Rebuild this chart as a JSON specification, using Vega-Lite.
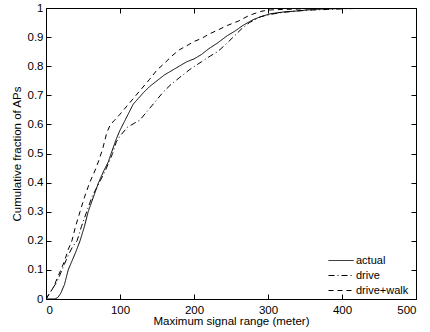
{
  "$schema": "https://vega.github.io/schema/vega-lite/v6.json",
  "width": 370,
  "height": 291,
  "autosize": {"type": "none"},
  "padding": {"left": 46, "top": 8, "right": 14, "bottom": 33},
  "background": "white",
  "config": {
    "font": "Liberation Sans",
    "view": {"stroke": "black", "strokeWidth": 1},
    "axis": {
      "grid": false,
      "domain": false,
      "tickColor": "black",
      "tickSize": -5,
      "labelColor": "black",
      "labelFontSize": 11.5,
      "titleColor": "black",
      "titleFontSize": 11.5,
      "titleFontWeight": "normal"
    }
  },
  "datasets": {
    "curves": [
      {"series": "actual", "range": 0, "frac": 0},
      {"series": "actual", "range": 12, "frac": 0},
      {"series": "actual", "range": 16, "frac": 0.005},
      {"series": "actual", "range": 20, "frac": 0.02},
      {"series": "actual", "range": 25, "frac": 0.05},
      {"series": "actual", "range": 30, "frac": 0.1},
      {"series": "actual", "range": 35, "frac": 0.13},
      {"series": "actual", "range": 40, "frac": 0.16},
      {"series": "actual", "range": 46, "frac": 0.2},
      {"series": "actual", "range": 52, "frac": 0.25},
      {"series": "actual", "range": 57, "frac": 0.3},
      {"series": "actual", "range": 64, "frac": 0.35},
      {"series": "actual", "range": 71, "frac": 0.4},
      {"series": "actual", "range": 78, "frac": 0.44},
      {"series": "actual", "range": 84, "frac": 0.47},
      {"series": "actual", "range": 88, "frac": 0.5},
      {"series": "actual", "range": 95, "frac": 0.55},
      {"series": "actual", "range": 100, "frac": 0.58},
      {"series": "actual", "range": 106, "frac": 0.61},
      {"series": "actual", "range": 112, "frac": 0.64},
      {"series": "actual", "range": 118, "frac": 0.67},
      {"series": "actual", "range": 125, "frac": 0.69},
      {"series": "actual", "range": 132, "frac": 0.71},
      {"series": "actual", "range": 140, "frac": 0.73},
      {"series": "actual", "range": 150, "frac": 0.75},
      {"series": "actual", "range": 160, "frac": 0.77},
      {"series": "actual", "range": 170, "frac": 0.785},
      {"series": "actual", "range": 180, "frac": 0.8},
      {"series": "actual", "range": 190, "frac": 0.815},
      {"series": "actual", "range": 200, "frac": 0.825},
      {"series": "actual", "range": 210, "frac": 0.84},
      {"series": "actual", "range": 220, "frac": 0.86},
      {"series": "actual", "range": 232, "frac": 0.88},
      {"series": "actual", "range": 245, "frac": 0.905},
      {"series": "actual", "range": 255, "frac": 0.92},
      {"series": "actual", "range": 266, "frac": 0.94},
      {"series": "actual", "range": 280, "frac": 0.96},
      {"series": "actual", "range": 290, "frac": 0.97},
      {"series": "actual", "range": 303, "frac": 0.98},
      {"series": "actual", "range": 320, "frac": 0.986},
      {"series": "actual", "range": 340, "frac": 0.99},
      {"series": "actual", "range": 360, "frac": 0.995},
      {"series": "actual", "range": 380, "frac": 0.997},
      {"series": "actual", "range": 400, "frac": 0.998},
      {"series": "actual", "range": 420, "frac": 1},
      {"series": "actual", "range": 500, "frac": 1},

      {"series": "drive", "range": 0, "frac": 0},
      {"series": "drive", "range": 5, "frac": 0.02},
      {"series": "drive", "range": 10, "frac": 0.04},
      {"series": "drive", "range": 15, "frac": 0.06},
      {"series": "drive", "range": 20, "frac": 0.09},
      {"series": "drive", "range": 25, "frac": 0.12},
      {"series": "drive", "range": 30, "frac": 0.15},
      {"series": "drive", "range": 36, "frac": 0.18},
      {"series": "drive", "range": 42, "frac": 0.2},
      {"series": "drive", "range": 48, "frac": 0.25},
      {"series": "drive", "range": 55, "frac": 0.3},
      {"series": "drive", "range": 62, "frac": 0.35},
      {"series": "drive", "range": 70, "frac": 0.39},
      {"series": "drive", "range": 74, "frac": 0.41},
      {"series": "drive", "range": 80, "frac": 0.44},
      {"series": "drive", "range": 85, "frac": 0.47},
      {"series": "drive", "range": 90, "frac": 0.5},
      {"series": "drive", "range": 95, "frac": 0.54},
      {"series": "drive", "range": 100, "frac": 0.56},
      {"series": "drive", "range": 110, "frac": 0.59},
      {"series": "drive", "range": 120, "frac": 0.605},
      {"series": "drive", "range": 127, "frac": 0.615},
      {"series": "drive", "range": 135, "frac": 0.64},
      {"series": "drive", "range": 145, "frac": 0.67},
      {"series": "drive", "range": 158, "frac": 0.71},
      {"series": "drive", "range": 170, "frac": 0.74},
      {"series": "drive", "range": 180, "frac": 0.76},
      {"series": "drive", "range": 195, "frac": 0.79},
      {"series": "drive", "range": 210, "frac": 0.815},
      {"series": "drive", "range": 222, "frac": 0.835},
      {"series": "drive", "range": 232, "frac": 0.85},
      {"series": "drive", "range": 245, "frac": 0.88},
      {"series": "drive", "range": 255, "frac": 0.905},
      {"series": "drive", "range": 265, "frac": 0.93},
      {"series": "drive", "range": 275, "frac": 0.95},
      {"series": "drive", "range": 290, "frac": 0.97},
      {"series": "drive", "range": 303, "frac": 0.978},
      {"series": "drive", "range": 320, "frac": 0.985},
      {"series": "drive", "range": 340, "frac": 0.99},
      {"series": "drive", "range": 360, "frac": 0.993},
      {"series": "drive", "range": 380, "frac": 0.995},
      {"series": "drive", "range": 400, "frac": 0.997},
      {"series": "drive", "range": 440, "frac": 1},
      {"series": "drive", "range": 500, "frac": 1},

      {"series": "drive+walk", "range": 0, "frac": 0},
      {"series": "drive+walk", "range": 5, "frac": 0.02},
      {"series": "drive+walk", "range": 10, "frac": 0.04},
      {"series": "drive+walk", "range": 15, "frac": 0.07},
      {"series": "drive+walk", "range": 20, "frac": 0.1},
      {"series": "drive+walk", "range": 25, "frac": 0.13},
      {"series": "drive+walk", "range": 30, "frac": 0.17},
      {"series": "drive+walk", "range": 35, "frac": 0.2},
      {"series": "drive+walk", "range": 40, "frac": 0.25},
      {"series": "drive+walk", "range": 46, "frac": 0.3},
      {"series": "drive+walk", "range": 52, "frac": 0.35},
      {"series": "drive+walk", "range": 59, "frac": 0.4},
      {"series": "drive+walk", "range": 66, "frac": 0.44},
      {"series": "drive+walk", "range": 72, "frac": 0.48},
      {"series": "drive+walk", "range": 77, "frac": 0.52},
      {"series": "drive+walk", "range": 82, "frac": 0.57},
      {"series": "drive+walk", "range": 87, "frac": 0.6},
      {"series": "drive+walk", "range": 93, "frac": 0.615},
      {"series": "drive+walk", "range": 100, "frac": 0.635},
      {"series": "drive+walk", "range": 110, "frac": 0.665},
      {"series": "drive+walk", "range": 120, "frac": 0.695},
      {"series": "drive+walk", "range": 130, "frac": 0.725},
      {"series": "drive+walk", "range": 140, "frac": 0.755},
      {"series": "drive+walk", "range": 150, "frac": 0.787},
      {"series": "drive+walk", "range": 160, "frac": 0.81},
      {"series": "drive+walk", "range": 170, "frac": 0.835},
      {"series": "drive+walk", "range": 180, "frac": 0.856},
      {"series": "drive+walk", "range": 190, "frac": 0.87},
      {"series": "drive+walk", "range": 200, "frac": 0.885},
      {"series": "drive+walk", "range": 210, "frac": 0.895},
      {"series": "drive+walk", "range": 220, "frac": 0.91},
      {"series": "drive+walk", "range": 232, "frac": 0.924},
      {"series": "drive+walk", "range": 245, "frac": 0.94},
      {"series": "drive+walk", "range": 260, "frac": 0.955},
      {"series": "drive+walk", "range": 275, "frac": 0.975},
      {"series": "drive+walk", "range": 290, "frac": 0.988},
      {"series": "drive+walk", "range": 300, "frac": 0.993},
      {"series": "drive+walk", "range": 320, "frac": 0.995},
      {"series": "drive+walk", "range": 350, "frac": 0.997},
      {"series": "drive+walk", "range": 400, "frac": 0.999},
      {"series": "drive+walk", "range": 450, "frac": 1},
      {"series": "drive+walk", "range": 500, "frac": 1}
    ]
  },
  "data": {"name": "curves"},
  "layer": [
    {
      "mark": {"type": "line", "color": "black", "strokeWidth": 1, "clip": true},
      "encoding": {
        "x": {
          "field": "range", "type": "quantitative",
          "scale": {"domain": [0, 500], "nice": false},
          "axis": {"values": [0, 100, 200, 300, 400, 500], "title": "Maximum signal range (meter)", "labelPadding": 10, "titlePadding": 0}
        },
        "y": {
          "field": "frac", "type": "quantitative",
          "scale": {"domain": [0, 1], "nice": false},
          "axis": {"values": [0, 0.1, 0.2, 0.3, 0.4, 0.5, 0.6, 0.7, 0.8, 0.9, 1], "title": "Cumulative fraction of APs", "labelPadding": 8, "titlePadding": 5,
                   "labelExpr": "datum.value == 0 ? '0' : datum.value == 1 ? '1' : format(datum.value, '.1f')"}
        },
        "strokeDash": {
          "field": "series", "type": "nominal",
          "scale": {"domain": ["actual", "drive", "drive+walk"], "range": [[1, 0], [6, 3, 1, 3], [5, 4]]},
          "legend": {
            "title": null,
            "orient": "none",
            "legendX": 287.6,
            "legendY": 245,
            "symbolType": "M-1.8,0H1.8",
            "symbolSize": 196,
            "symbolStrokeColor": "black",
            "symbolFillColor": "transparent",
            "symbolStrokeWidth": 1,
            "labelFontSize": 11,
            "labelColor": "black",
            "labelOffset": 7.4,
            "rowPadding": 2
          }
        },
        "detail": {"field": "series"}
      }
    },
    {
      "mark": {"type": "point", "opacity": 0},
      "encoding": {
        "x": {"field": "range", "type": "quantitative", "axis": {"orient": "top", "values": [0, 100, 200, 300, 400, 500], "labels": false, "title": null}},
        "y": {"field": "frac", "type": "quantitative", "axis": {"orient": "right", "values": [0, 0.1, 0.2, 0.3, 0.4, 0.5, 0.6, 0.7, 0.8, 0.9, 1], "labels": false, "title": null}}
      }
    }
  ],
  "resolve": {"axis": {"x": "independent", "y": "independent"}}
}
